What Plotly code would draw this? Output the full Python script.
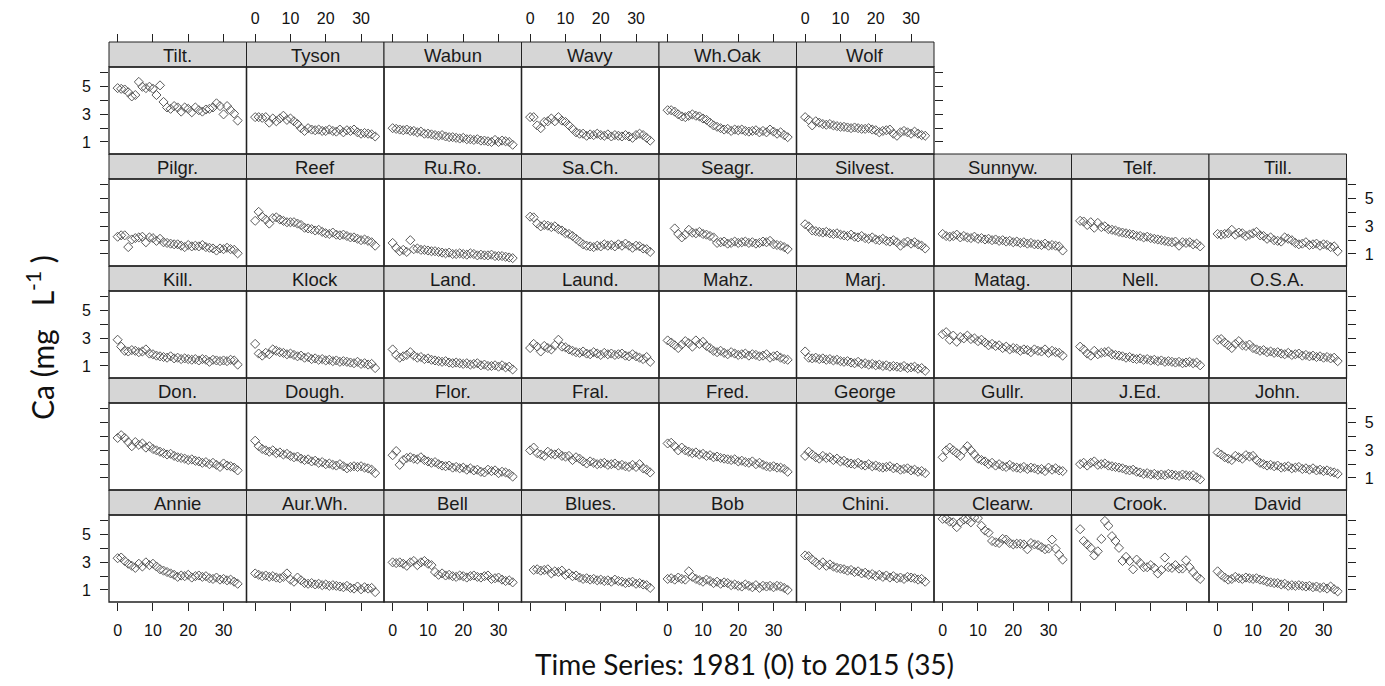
import plotly.graph_objects as go

W, H = 1385, 686

years = list(range(35))

rows = [
    ["Tilt.", "Tyson", "Wabun", "Wavy", "Wh.Oak", "Wolf"],
    ["Pilgr.", "Reef", "Ru.Ro.", "Sa.Ch.", "Seagr.", "Silvest.", "Sunnyw.", "Telf.", "Till."],
    ["Kill.", "Klock", "Land.", "Laund.", "Mahz.", "Marj.", "Matag.", "Nell.", "O.S.A."],
    ["Don.", "Dough.", "Flor.", "Fral.", "Fred.", "George", "Gullr.", "J.Ed.", "John."],
    ["Annie", "Aur.Wh.", "Bell", "Blues.", "Bob", "Chini.", "Clearw.", "Crook.", "David"],
]

ca = {}
ca["Tilt."] = [4.9,4.85,4.8,4.6,4.3,4.4,5.35,5.0,4.9,5.0,4.85,4.4,5.1,3.9,3.5,3.4,3.6,3.5,3.2,3.5,3.4,3.15,3.5,3.3,3.2,3.35,3.4,3.5,3.8,3.6,3.0,3.6,3.3,3.05,2.55]
ca["Tyson"] = [2.8,2.8,2.75,2.8,2.4,2.7,2.5,2.7,2.9,2.6,2.7,2.5,2.3,2.0,1.8,2.0,1.9,1.85,1.9,1.8,1.8,1.9,1.8,1.75,1.9,1.7,1.85,1.8,1.9,1.7,1.6,1.65,1.6,1.55,1.4]
ca["Wabun"] = [2.0,1.95,1.9,1.85,1.9,1.8,1.8,1.7,1.75,1.6,1.6,1.55,1.5,1.45,1.5,1.4,1.35,1.35,1.3,1.25,1.3,1.2,1.2,1.15,1.2,1.1,1.1,1.05,1.0,1.15,1.0,1.1,1.05,1.0,0.8]
ca["Wavy"] = [2.8,2.8,2.2,2.0,2.45,2.5,2.7,2.5,2.8,2.55,2.45,2.2,1.95,1.7,1.6,1.6,1.45,1.55,1.5,1.6,1.5,1.45,1.55,1.4,1.5,1.45,1.4,1.5,1.4,1.3,1.5,1.6,1.5,1.3,1.1]
ca["Wh.Oak"] = [3.3,3.3,3.2,3.0,2.85,2.8,2.9,3.0,2.9,2.85,2.7,2.6,2.4,2.2,2.1,2.0,1.9,1.95,1.8,1.9,1.85,1.9,1.8,1.75,1.8,1.85,1.7,1.8,1.7,1.9,1.75,1.6,1.7,1.5,1.35]
ca["Wolf"] = [2.8,2.6,2.2,2.5,2.4,2.3,2.25,2.3,2.2,2.15,2.1,2.1,2.05,2.0,2.05,2.0,1.95,1.95,2.0,1.9,1.85,1.7,1.8,1.85,1.9,1.6,1.45,1.7,1.8,1.7,1.6,1.75,1.6,1.5,1.45]

ca["Pilgr."] = [2.25,2.35,2.35,1.5,2.05,2.15,2.2,2.25,1.85,2.2,2.15,1.95,2.1,1.85,1.8,1.75,1.7,1.7,1.6,1.5,1.65,1.55,1.6,1.55,1.65,1.5,1.45,1.4,1.25,1.4,1.35,1.45,1.35,1.3,1.05]
ca["Reef"] = [3.4,4.05,3.7,3.5,3.2,3.6,3.65,3.5,3.4,3.3,3.3,3.3,3.2,3.1,2.9,2.85,2.8,2.7,2.75,2.6,2.5,2.45,2.55,2.4,2.35,2.4,2.3,2.2,2.2,2.1,2.0,2.05,1.95,1.85,1.6]
ca["Ru.Ro."] = [1.8,1.45,1.2,1.3,1.15,2.0,1.35,1.4,1.3,1.3,1.25,1.2,1.2,1.15,1.1,1.05,1.1,1.0,1.0,1.05,1.0,0.95,1.05,1.0,0.9,0.95,0.9,0.9,0.95,0.85,0.85,0.85,0.8,0.75,0.7]
ca["Sa.Ch."] = [3.7,3.65,3.2,3.0,3.1,3.05,2.95,3.0,2.8,2.7,2.5,2.45,2.3,2.1,1.9,1.7,1.6,1.55,1.5,1.6,1.55,1.7,1.6,1.65,1.55,1.7,1.6,1.75,1.6,1.45,1.6,1.55,1.4,1.35,1.15]
ca["Seagr."] = [None,None,2.85,2.45,2.2,2.4,2.75,2.55,2.5,2.6,2.45,2.4,2.3,2.2,1.8,1.85,1.9,1.75,1.8,1.9,1.8,1.85,1.9,1.8,1.85,1.75,1.8,1.9,1.85,1.95,1.7,1.65,1.6,1.5,1.35]
ca["Silvest."] = [3.15,3.0,2.7,2.65,2.6,2.55,2.6,2.5,2.45,2.5,2.4,2.35,2.3,2.4,2.25,2.2,2.3,2.15,2.1,2.2,2.05,2.0,2.1,1.95,1.9,2.0,1.85,1.6,1.8,1.9,1.75,1.85,1.7,1.6,1.4]
ca["Sunnyw."] = [2.45,2.3,2.25,2.3,2.4,2.2,2.3,2.2,2.15,2.25,2.1,2.15,2.05,2.1,2.0,2.05,1.95,2.0,1.9,1.95,1.85,1.9,1.8,1.85,1.75,1.8,1.7,1.7,1.65,1.75,1.6,1.65,1.6,1.55,1.25]
ca["Telf."] = [3.4,3.35,3.1,3.3,2.9,3.25,2.95,3.0,2.8,2.75,2.7,2.6,2.55,2.5,2.45,2.4,2.3,2.3,2.2,2.25,2.15,2.1,2.05,2.0,1.95,1.9,1.85,1.9,1.6,1.85,1.8,1.85,1.7,1.75,1.55]
ca["Till."] = [2.45,2.4,2.45,2.5,2.75,2.4,2.55,2.5,2.3,2.4,2.5,2.6,2.35,2.3,2.1,2.2,2.0,1.95,1.9,2.2,2.1,2.0,1.8,1.7,1.75,1.85,1.65,1.7,1.75,1.6,1.7,1.65,1.5,1.55,1.2]

ca["Kill."] = [2.9,2.4,2.1,2.05,2.15,2.1,2.0,2.05,2.2,1.9,1.85,1.75,1.7,1.65,1.6,1.7,1.55,1.6,1.5,1.55,1.5,1.45,1.5,1.4,1.5,1.45,1.3,1.45,1.4,1.35,1.4,1.35,1.45,1.4,1.1]
ca["Klock"] = [2.6,1.9,1.75,1.95,1.85,2.2,2.1,2.0,1.95,1.85,1.9,1.8,1.7,1.75,1.6,1.65,1.5,1.55,1.45,1.5,1.4,1.45,1.35,1.4,1.3,1.35,1.3,1.25,1.2,1.3,1.15,1.2,1.1,1.15,0.85]
ca["Land."] = [2.2,1.8,1.6,1.7,1.8,2.0,1.75,1.6,1.65,1.5,1.55,1.45,1.4,1.35,1.3,1.35,1.25,1.2,1.25,1.2,1.15,1.2,1.1,1.15,1.2,1.05,1.1,1.0,1.0,1.05,0.95,1.05,0.9,0.95,0.75]
ca["Laund."] = [2.3,2.6,2.4,2.05,2.45,2.3,2.2,2.5,2.9,2.4,2.35,2.2,2.1,2.0,1.95,2.05,1.9,1.85,2.0,1.9,1.8,1.95,1.85,1.9,1.8,1.85,1.9,1.75,1.7,1.85,1.7,1.6,1.5,1.65,1.3]
ca["Mahz."] = [2.85,2.7,2.5,2.3,2.55,2.8,2.65,2.4,2.85,2.6,2.75,2.45,2.3,2.1,2.0,2.1,1.95,1.85,2.0,1.9,1.8,1.85,1.9,1.75,1.85,1.8,1.7,1.75,1.85,1.6,1.7,1.75,1.6,1.5,1.45]
ca["Marj."] = [2.05,1.6,1.55,1.6,1.5,1.55,1.45,1.5,1.4,1.45,1.35,1.3,1.35,1.25,1.2,1.3,1.15,1.2,1.1,1.15,1.05,1.1,1.0,1.05,0.95,1.0,0.95,0.9,1.0,0.85,0.9,0.95,0.8,0.85,0.65]
ca["Matag."] = [3.3,3.45,2.9,3.2,2.75,3.1,3.0,3.2,2.95,3.0,2.8,2.9,2.7,2.5,2.6,2.45,2.5,2.3,2.4,2.2,2.3,2.25,2.1,2.2,2.15,2.0,2.2,2.1,2.05,2.2,1.95,2.1,2.0,1.95,1.75]
ca["Nell."] = [2.4,2.2,1.9,1.75,2.1,1.85,1.95,2.0,2.05,1.85,1.8,1.75,1.7,1.6,1.65,1.55,1.5,1.55,1.45,1.5,1.4,1.45,1.35,1.4,1.3,1.35,1.3,1.25,1.3,1.2,1.25,1.3,1.2,1.25,1.05]
ca["O.S.A."] = [2.9,2.95,2.7,2.5,2.3,2.6,2.8,2.5,2.45,2.55,2.3,2.2,2.1,2.15,2.0,2.05,1.95,2.0,1.9,1.85,1.95,1.8,1.85,1.9,1.75,1.8,1.7,1.75,1.65,1.7,1.6,1.65,1.55,1.6,1.35]

ca["Don."] = [3.9,4.1,3.9,3.6,3.3,3.6,3.4,3.5,3.2,3.3,3.1,3.0,2.9,2.8,2.7,2.75,2.6,2.5,2.45,2.4,2.3,2.35,2.25,2.2,2.1,2.15,2.0,2.1,1.95,1.8,2.05,1.9,1.85,1.75,1.55]
ca["Dough."] = [3.7,3.3,3.1,3.0,2.9,3.0,2.8,2.85,2.7,2.75,2.6,2.5,2.55,2.4,2.3,2.35,2.2,2.25,2.1,2.15,2.0,2.05,1.95,1.9,2.0,1.85,1.7,1.8,1.85,1.8,1.85,1.75,1.7,1.6,1.35]
ca["Flor."] = [2.65,2.95,1.95,2.3,2.45,2.5,2.4,2.35,2.5,2.3,2.2,2.1,2.15,2.0,1.9,1.85,1.9,1.75,1.8,1.7,1.75,1.6,1.7,1.55,1.6,1.45,1.4,1.6,1.5,1.55,1.35,1.45,1.4,1.3,1.1]
ca["Fral."] = [3.0,3.2,2.8,2.7,2.6,2.9,2.75,2.7,2.8,2.6,2.55,2.6,2.3,2.5,2.4,2.2,2.05,2.2,2.1,2.0,2.05,2.1,1.95,2.0,2.05,1.9,1.95,1.85,1.8,1.95,1.8,2.0,1.7,1.6,1.4]
ca["Fred."] = [3.5,3.55,3.3,3.0,3.2,3.0,2.9,2.8,2.85,2.7,2.75,2.6,2.65,2.5,2.55,2.45,2.4,2.35,2.3,2.35,2.2,2.25,2.15,2.1,2.2,2.0,2.1,1.95,1.85,1.8,1.85,1.75,1.75,1.65,1.45]
ca["George"] = [2.6,2.9,2.7,2.5,2.4,2.6,2.45,2.5,2.3,2.4,2.2,2.25,2.1,2.05,2.0,2.1,1.95,1.9,2.0,1.85,1.9,1.8,1.75,1.8,1.85,1.7,1.75,1.6,1.65,1.7,1.55,1.6,1.45,1.5,1.35]
ca["Gullr."] = [2.5,3.0,3.2,3.0,2.8,2.6,3.0,3.3,3.0,2.7,2.4,2.3,2.2,2.0,2.1,1.9,2.0,1.85,1.8,1.95,1.8,1.75,1.7,1.8,1.65,1.75,1.7,1.6,1.65,1.5,1.75,1.6,1.7,1.55,1.5]
ca["J.Ed."] = [2.0,2.1,1.9,2.1,2.2,1.95,2.0,2.05,1.9,1.85,1.8,1.75,1.7,1.6,1.55,1.6,1.45,1.4,1.3,1.35,1.25,1.3,1.2,1.25,1.2,1.3,1.25,1.2,1.15,1.25,1.2,1.15,1.2,1.05,0.9]
ca["John."] = [2.85,2.7,2.5,2.4,2.3,2.6,2.5,2.4,2.65,2.55,2.6,2.3,2.1,2.0,1.9,1.95,1.85,1.9,1.75,1.8,1.85,1.7,1.75,1.8,1.65,1.7,1.6,1.7,1.55,1.6,1.5,1.55,1.45,1.4,1.3]

ca["Annie"] = [3.3,3.35,3.1,2.9,2.75,2.6,2.9,2.7,3.0,2.8,2.9,2.7,2.5,2.4,2.3,2.2,2.1,1.95,2.05,2.0,2.1,1.9,2.0,2.05,1.95,2.0,1.85,1.8,1.9,1.75,1.8,1.7,1.75,1.6,1.45]
ca["Aur.Wh."] = [2.2,2.1,2.0,2.05,1.95,2.0,1.9,1.85,1.95,2.2,1.75,1.6,1.9,1.7,1.5,1.45,1.5,1.4,1.45,1.35,1.4,1.3,1.35,1.3,1.25,1.2,1.3,1.15,1.1,1.25,1.05,1.2,1.1,1.15,0.85]
ca["Bell"] = [3.0,2.95,3.0,2.9,2.75,3.0,3.1,2.8,3.0,3.1,2.9,2.8,2.3,2.1,2.2,2.05,2.1,2.0,1.95,2.05,2.0,1.9,2.0,2.05,1.95,1.9,2.0,2.05,1.8,1.85,1.9,1.75,1.65,1.7,1.55]
ca["Blues."] = [None,2.45,2.5,2.4,2.45,2.5,2.2,2.35,2.3,2.4,2.1,2.2,2.0,2.05,1.9,1.8,1.85,1.75,1.8,1.7,1.75,1.65,1.7,1.6,1.75,1.65,1.6,1.5,1.55,1.6,1.45,1.5,1.4,1.35,1.15]
ca["Bob"] = [1.8,1.85,1.75,1.9,1.8,1.75,2.35,1.95,1.8,1.7,1.6,1.75,1.65,1.5,1.6,1.45,1.55,1.5,1.35,1.4,1.3,1.25,1.4,1.3,1.2,1.35,1.15,1.3,1.25,1.3,1.2,1.3,1.25,1.15,1.0]
ca["Chini."] = [3.5,3.45,3.2,3.0,2.8,3.0,2.75,2.85,2.7,2.6,2.55,2.5,2.4,2.45,2.3,2.35,2.2,2.25,2.1,2.15,2.0,2.1,1.95,2.05,1.9,2.0,1.85,1.9,1.8,1.95,1.9,1.85,1.75,1.8,1.6]
ca["Clearw."] = [6.15,6.15,5.95,5.9,5.55,5.9,6.1,6.1,5.9,6.25,6.2,5.65,5.3,5.15,4.55,4.45,4.4,4.7,4.65,4.4,4.3,4.35,4.35,4.3,3.95,4.4,4.3,4.25,4.1,3.95,4.0,4.65,4.0,3.55,3.2]
ca["Crook."] = [5.4,4.55,4.3,4.05,3.5,3.8,4.7,6.0,5.65,4.9,4.55,4.05,3.1,3.4,3.1,2.5,3.2,2.95,2.65,2.65,2.8,2.6,2.2,2.45,3.35,2.65,2.6,2.8,2.55,2.55,3.15,2.65,2.3,2.0,1.8]
ca["David"] = [2.35,2.1,1.9,1.75,1.8,1.95,1.85,1.8,1.9,1.85,1.8,1.85,1.75,1.7,1.6,1.55,1.5,1.5,1.4,1.45,1.3,1.35,1.3,1.35,1.3,1.25,1.3,1.2,1.25,1.15,1.2,1.1,1.25,1.05,0.9]

x_ticks = [0, 10, 20, 30]
y_major = [1, 3, 5]
y_minor = [2, 4, 6]

# geometry (pixels)
COL_LEFT = 109.0
COL_W = 137.5
ROW_TOP0 = 42.0
ROW_H = 112.0
STRIP_H = 25.0
XR = [-2.45, 36.5]
YR = [0.13, 6.43]

TICK_FONT = dict(family="Liberation Sans, Arial, sans-serif", size=16, color="#111")
MARK_COLOR = "#5a5a5a"

fig = go.Figure()
layout = {}
shapes = []
annotations = []

def px_x(p):
    return p / W

def px_y(p):
    return 1 - p / H

idx = 0
for r, names in enumerate(rows):
    top = ROW_TOP0 + r * ROW_H
    ptop = top + STRIP_H
    pbot = top + ROW_H
    ncols = len(names)
    for c, name in enumerate(names):
        idx += 1
        xl = COL_LEFT + c * COL_W
        xr = xl + COL_W
        xa = "xaxis" if idx == 1 else f"xaxis{idx}"
        ya = "yaxis" if idx == 1 else f"yaxis{idx}"
        xref = "x" if idx == 1 else f"x{idx}"
        yref = "y" if idx == 1 else f"y{idx}"

        xax = dict(domain=[px_x(xl), px_x(xr)], range=XR, showgrid=False, zeroline=False,
                   showline=False, tickvals=x_ticks, ticktext=[str(v) for v in x_ticks],
                   tickfont=TICK_FONT, ticklen=8, tickwidth=1, tickcolor="#222",
                   anchor=yref, fixedrange=True)
        if r == len(rows) - 1:
            xax.update(side="bottom", ticks="outside", showticklabels=(c % 2 == 0),
                       ticklabelstandoff=6)
        elif r == 0:
            xax.update(side="top", ticks="outside", showticklabels=(c % 2 == 1),
                       anchor="free", position=px_y(top), ticklabelstandoff=4)
        else:
            xax.update(ticks="", showticklabels=False)
        layout[xa] = xax

        yax = dict(domain=[px_y(pbot), px_y(ptop)], range=YR, showgrid=False, zeroline=False,
                   showline=False, tickvals=y_major, ticktext=[str(v) for v in y_major],
                   tickfont=TICK_FONT, ticklen=8, tickwidth=1, tickcolor="#222",
                   anchor=xref, fixedrange=True)
        if c == 0 or c == ncols - 1:
            side = "left" if c == 0 else "right"
            labels = (r % 2 == 0) if c == 0 else (r % 2 == 1)
            yax.update(side=side, ticks="outside", showticklabels=labels,
                       ticklabelstandoff=6,
                       minor=dict(tickvals=y_minor, ticks="outside", ticklen=8,
                                  tickwidth=1, tickcolor="#222", showgrid=False))
        else:
            yax.update(ticks="", showticklabels=False)
        layout[ya] = yax

        fig.add_trace(go.Scatter(
            x=years, y=ca[name], mode="markers", xaxis=xref, yaxis=yref,
            marker=dict(symbol="diamond-open", size=7, color=MARK_COLOR,
                        line=dict(width=1, color=MARK_COLOR)),
            showlegend=False, hoverinfo="x+y", name=name))

        # strip
        shapes.append(dict(type="rect", xref="paper", yref="paper",
                           x0=px_x(xl), x1=px_x(xr), y0=px_y(ptop), y1=px_y(top),
                           fillcolor="#d6d6d6", line=dict(color="#222", width=1), layer="below"))
        # panel border
        shapes.append(dict(type="rect", xref="paper", yref="paper",
                           x0=px_x(xl), x1=px_x(xr), y0=px_y(pbot), y1=px_y(ptop),
                           fillcolor="rgba(0,0,0,0)", line=dict(color="#222", width=1.3),
                           layer="above"))
        annotations.append(dict(xref="paper", yref="paper", x=px_x((xl + xr) / 2),
                                y=px_y(top + STRIP_H / 2 + 0.5), text=name, showarrow=False,
                                xanchor="center", yanchor="middle",
                                font=dict(family="Liberation Sans, Arial, sans-serif",
                                          size=18.5, color="#1a1a1a")))

annotations.append(dict(xref="paper", yref="paper", x=px_x(744), y=px_y(664),
                        text="Time Series: 1981 (0) to 2015 (35)", showarrow=False,
                        xanchor="center", yanchor="middle",
                        font=dict(family="Lato, Open Sans, sans-serif", size=28, color="#111")))
annotations.append(dict(xref="paper", yref="paper", x=px_x(40), y=px_y(338),
                        text="Ca (mg   L<sup>-1</sup> )", showarrow=False, textangle=-90,
                        xanchor="center", yanchor="middle",
                        font=dict(family="Lato, Open Sans, sans-serif", size=30, color="#111")))

fig.update_layout(width=W, height=H, autosize=False,
                  margin=dict(l=0, r=0, t=0, b=0, pad=0),
                  paper_bgcolor="white", plot_bgcolor="white",
                  shapes=shapes, annotations=annotations, showlegend=False, **layout)

fig.write_html("out.html")
